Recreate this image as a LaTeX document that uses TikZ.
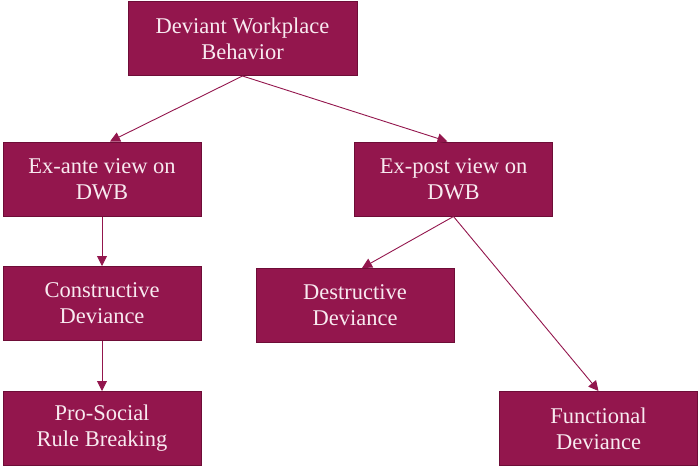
\documentclass[tikz,border=0pt]{standalone}
\usepackage{fontspec}
\setmainfont{Liberation Serif}
\usepackage{xcolor}
\definecolor{boxfill}{HTML}{93164D}
\definecolor{boxline}{HTML}{6E0D37}
\definecolor{boxtext}{HTML}{F8EAF0}
\usetikzlibrary{arrows.meta, positioning}

\begin{document}
\begin{tikzpicture}[
        x=1pt, y=-1pt,
        font=\rmfamily\fontsize{22.5}{26}\selectfont,
        dwb_box/.style={
            rectangle,
            draw=boxline,
            line width=1pt,
            fill=boxfill,
            text=boxtext,
            align=center,
            minimum width=198pt,
            minimum height=74pt,
            inner sep=2pt
        },
        arrow/.style={
            -{Triangle[length=10pt, width=10pt]},
            draw=boxfill,
            line width=0.9pt
        }
    ]
    \useasboundingbox (0,0) rectangle (698,466);

    % Root
    \node[dwb_box, minimum width=229pt] (dwb) at (242.5,38.5) {Deviant Workplace\\Behavior};

    % Two views
    \node[dwb_box] (exante) at (102,179) {Ex-ante view on\\DWB};
    \node[dwb_box] (expost) at (453.5,179) {Ex-post view on\\DWB};

    % Forms of deviance
    \node[dwb_box] (constructive) at (102,303.5) {Constructive\\Deviance};
    \node[dwb_box] (destructive) at (355,305.5) {Destructive\\Deviance};
    \node[dwb_box] (prosocial) at (102,428.5) {Pro-Social\\Rule Breaking};
    \node[dwb_box] (functional) at (598.5,428.5) {Functional\\Deviance};

    % Connectors
    \draw[arrow] (dwb.south) -- ([xshift=8pt]exante.north);
    \draw[arrow] (dwb.south) -- ([xshift=-6pt]expost.north);
    \draw[arrow] (exante.south) -- (constructive.north);
    \draw[arrow] (constructive.south) -- (prosocial.north);
    \draw[arrow] (expost.south) -- ([xshift=7pt]destructive.north);
    \draw[arrow] (expost.south) -- (functional.north);

\end{tikzpicture}
\end{document}
